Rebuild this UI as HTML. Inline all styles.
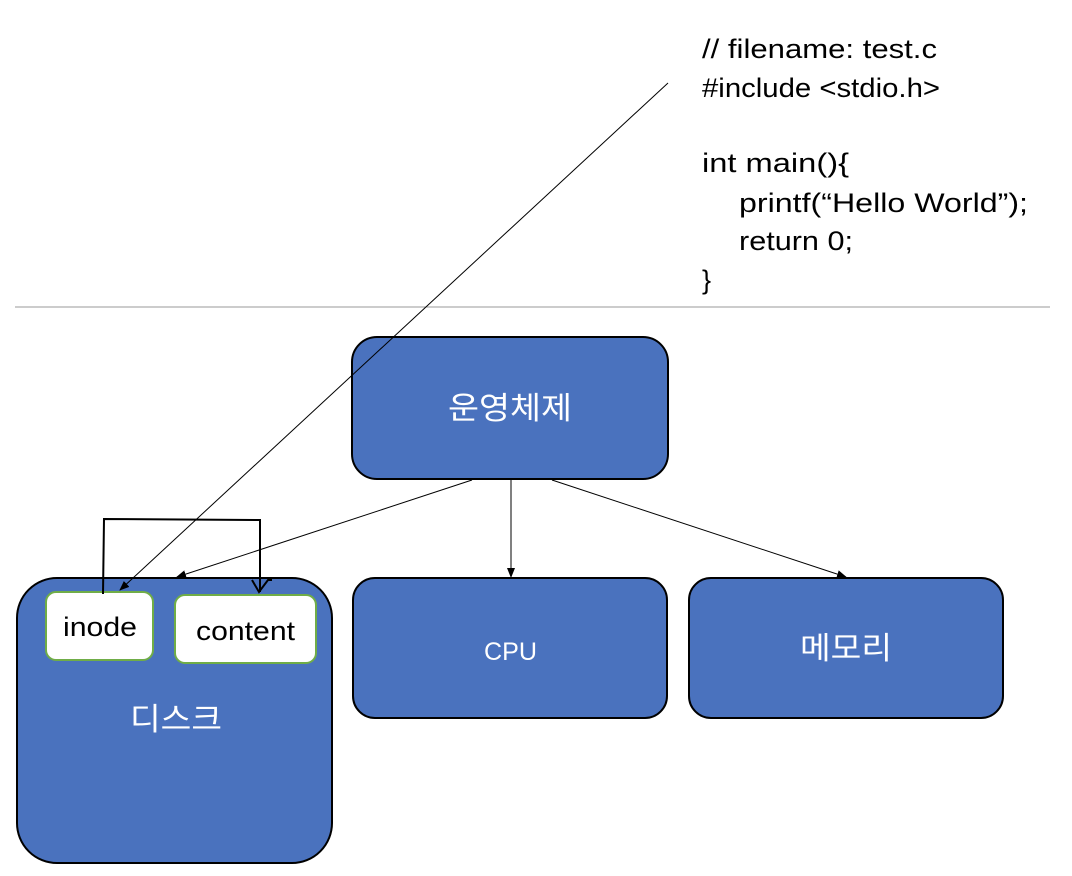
<!DOCTYPE html>
<html><head><meta charset="utf-8"><style>
body{margin:0;background:#fff;}
svg{display:block;}
text{font-family:"Liberation Sans","Noto Sans CJK KR",sans-serif;}
</style></head><body>
<svg width="1072" height="876" viewBox="0 0 1072 876" xmlns="http://www.w3.org/2000/svg">
<defs>
<marker id="a" markerWidth="10" markerHeight="10" refX="9" refY="5" orient="auto" markerUnits="userSpaceOnUse"><path d="M0,1 L10,5 L0,9 z" fill="#000"/></marker>
</defs>
<line x1="15" y1="307" x2="1050" y2="307" stroke="#999" stroke-width="1"/>
<g font-size="27" fill="#000" lengthAdjust="spacingAndGlyphs">
<text x="702" y="58" textLength="235" lengthAdjust="spacingAndGlyphs">// filename: test.c</text>
<text x="702" y="97" textLength="238" lengthAdjust="spacingAndGlyphs">#include &lt;stdio.h&gt;</text>
<text x="702" y="172" textLength="147" lengthAdjust="spacingAndGlyphs">int main(){</text>
<text x="739" y="212" textLength="289" lengthAdjust="spacingAndGlyphs">printf(“Hello World”);</text>
<text x="739" y="250" textLength="114" lengthAdjust="spacingAndGlyphs">return 0;</text>
<text x="702" y="289">}</text>
</g>
<rect x="352" y="337" width="316" height="142" rx="25" fill="#4a72be" stroke="#000" stroke-width="2"/>
<text x="448" y="419" font-size="31" fill="#fff" textLength="124" lengthAdjust="spacingAndGlyphs">운영체제</text>
<rect x="17" y="578" width="315" height="285" rx="40" fill="#4a72be" stroke="#000" stroke-width="2"/>
<text x="130" y="730" font-size="31" fill="#fff" textLength="92" lengthAdjust="spacingAndGlyphs">디스크</text>
<rect x="353" y="578" width="314" height="140" rx="22" fill="#4a72be" stroke="#000" stroke-width="2"/>
<text x="484" y="660" font-size="25" fill="#fff" textLength="53" lengthAdjust="spacingAndGlyphs">CPU</text>
<rect x="689" y="578" width="314" height="140" rx="22" fill="#4a72be" stroke="#000" stroke-width="2"/>
<text x="800" y="659" font-size="31" fill="#fff" textLength="92" lengthAdjust="spacingAndGlyphs">메모리</text>
<rect x="46" y="592" width="107" height="68" rx="10" fill="#fff" stroke="#70ad47" stroke-width="2"/>
<text x="63" y="636" font-size="27" textLength="74" lengthAdjust="spacingAndGlyphs">inode</text>
<rect x="175" y="595" width="141" height="68" rx="10" fill="#fff" stroke="#70ad47" stroke-width="2"/>
<text x="196" y="640" font-size="27" textLength="99" lengthAdjust="spacingAndGlyphs">content</text>
<line x1="668" y1="83" x2="120" y2="590" stroke="#000" stroke-width="1" marker-end="url(#a)"/>
<line x1="472" y1="480" x2="177" y2="577" stroke="#000" stroke-width="1" marker-end="url(#a)"/>
<line x1="511" y1="480" x2="511" y2="577" stroke="#000" stroke-width="1" marker-end="url(#a)"/>
<line x1="552" y1="480" x2="846" y2="577" stroke="#000" stroke-width="1" marker-end="url(#a)"/>
<path d="M103,594 L104,519 L260,520 L260,592" fill="none" stroke="#000" stroke-width="2"/>
<path d="M252,580 L259,592 L268,580 L272,580" fill="none" stroke="#000" stroke-width="2"/>
</svg>
</body></html>
